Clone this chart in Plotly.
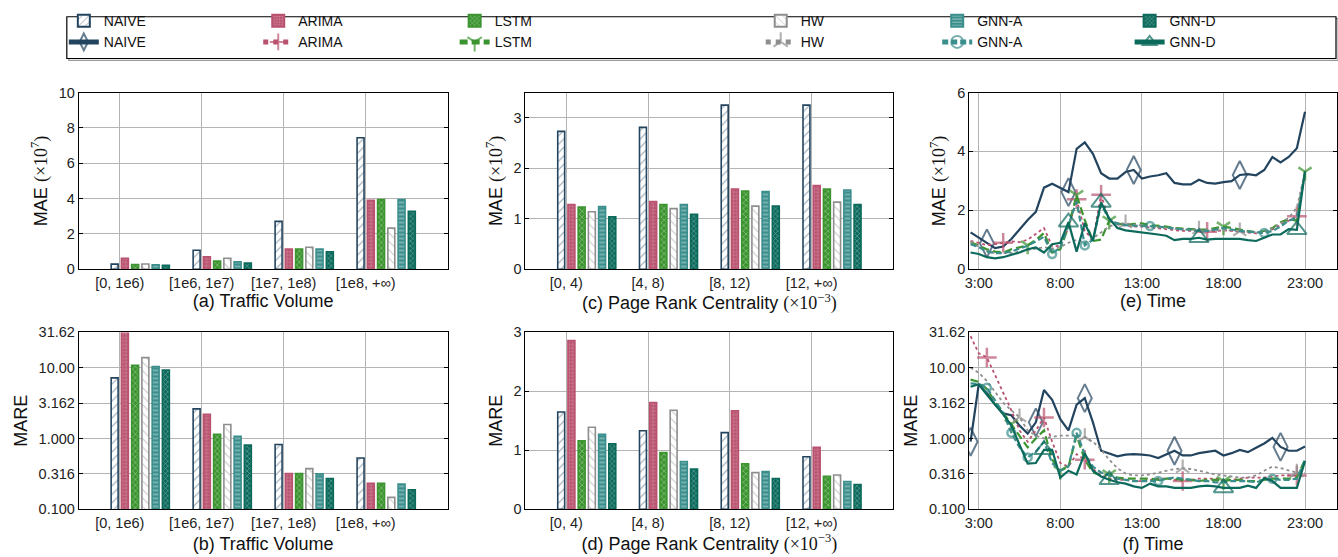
import plotly.graph_objects as go

W, H = 1338, 557

METHODS = ["NAIVE", "ARIMA", "LSTM", "HW", "GNN-A", "GNN-D"]

TV_CATS = ["[0, 1e6)", "[1e6, 1e7)", "[1e7, 1e8)", "[1e8, +∞)"]
PR_CATS = ["[0, 4)", "[4, 8)", "[8, 12)", "[12, +∞)"]

# (a) MAE (x1e7) by traffic volume
MAE_TV_NAIVE = [0.29, 1.08, 2.71, 7.44]
MAE_TV_ARIMA = [0.62, 0.71, 1.14, 3.90]
MAE_TV_LSTM = [0.27, 0.46, 1.14, 3.94]
MAE_TV_HW = [0.30, 0.62, 1.25, 2.33]
MAE_TV_GNNA = [0.26, 0.42, 1.14, 3.94]
MAE_TV_GNND = [0.22, 0.35, 0.99, 3.28]

# (b) MARE by traffic volume
MARE_TV_NAIVE = [7.2, 2.62, 0.82, 0.53]
MARE_TV_ARIMA = [34.0, 2.20, 0.319, 0.232]
MARE_TV_LSTM = [10.8, 1.15, 0.319, 0.232]
MARE_TV_HW = [13.9, 1.58, 0.374, 0.147]
MARE_TV_GNNA = [10.4, 1.07, 0.316, 0.227]
MARE_TV_GNND = [9.3, 0.805, 0.272, 0.188]

# (c) MAE (x1e7) by page rank centrality
MAE_PR_NAIVE = [2.73, 2.81, 3.25, 3.25]
MAE_PR_ARIMA = [1.28, 1.34, 1.59, 1.66]
MAE_PR_LSTM = [1.23, 1.28, 1.55, 1.59]
MAE_PR_HW = [1.14, 1.20, 1.25, 1.33]
MAE_PR_GNNA = [1.24, 1.28, 1.54, 1.57]
MAE_PR_GNND = [1.04, 1.09, 1.25, 1.28]

# (d) MARE by page rank centrality
MARE_PR_NAIVE = [1.65, 1.33, 1.30, 0.89]
MARE_PR_ARIMA = [2.86, 1.81, 1.67, 1.05]
MARE_PR_LSTM = [1.16, 0.96, 0.77, 0.56]
MARE_PR_HW = [1.39, 1.68, 0.62, 0.58]
MARE_PR_GNNA = [1.27, 0.81, 0.64, 0.47]
MARE_PR_GNND = [1.11, 0.68, 0.52, 0.42]

# time of day (hours)
TIME_H = [2.5, 3.0, 3.5, 4.0, 4.5, 5.0, 5.5, 6.0, 6.5, 7.0, 7.5, 8.0, 8.5, 9.0,
          9.5, 10.0, 10.5, 11.0, 11.5, 12.0, 12.5, 13.0, 13.5, 14.0, 14.5, 15.0,
          15.5, 16.0, 16.5, 17.0, 17.5, 18.0, 18.5, 19.0, 19.5, 20.0, 20.5, 21.0,
          21.5, 22.0, 22.5, 23.0]
TIME_TICKS = [3, 8, 13, 18, 23]
TIME_LABELS = ["3:00", "8:00", "13:00", "18:00", "23:00"]

# (e) MAE (x1e7) over time
E_NAIVE = [1.25, 1.07, 0.88, 0.72, 0.77, 1.03, 1.35, 1.67, 1.95, 2.77, 2.90, 2.75, 2.62, 4.09,
           4.31, 3.92, 3.26, 3.08, 3.08, 3.30, 3.37, 3.08, 3.15, 3.19, 3.26, 2.93,
           2.88, 2.88, 3.04, 2.93, 2.91, 2.96, 2.99, 3.20, 3.23, 3.19, 3.37, 3.81,
           3.63, 3.81, 4.11, 5.35]
E_ARIMA = [0.96, 0.90, 0.82, 0.85, 0.90, 0.95, 0.92, 1.00, 1.20, 1.40, 0.78, 0.80, 1.40, 2.38,
           1.30, 1.00, 2.53, 1.65, 1.52, 1.48, 1.45, 1.45, 1.42, 1.40, 1.38, 1.33,
           1.30, 1.30, 1.28, 1.27, 1.30, 1.32, 1.30, 1.28, 1.25, 1.22, 1.25, 1.35,
           1.50, 1.65, 1.80, 3.30]
E_LSTM = [0.92, 0.79, 0.68, 0.60, 0.57, 0.68, 0.75, 0.81, 0.99, 1.23, 0.57, 0.68, 1.45, 2.52,
          1.67, 0.96, 1.01, 1.65, 1.56, 1.50, 1.54, 1.56, 1.50, 1.48, 1.45, 1.40,
          1.38, 1.36, 1.35, 1.35, 1.40, 1.45, 1.40, 1.35, 1.32, 1.25, 1.30, 1.40,
          1.60, 1.70, 1.65, 3.31]
E_HW = [0.95, 0.75, 0.62, 0.55, 0.55, 0.55, 0.60, 0.65, 0.70, 0.75, 0.70, 0.75, 0.90, 1.00,
        0.90, 1.05, 1.25, 1.45, 1.55, 1.56, 1.52, 1.48, 1.45, 1.42, 1.40, 1.37,
        1.35, 1.33, 1.35, 1.33, 1.32, 1.33, 1.31, 1.29, 1.27, 1.25, 1.28, 1.40,
        1.55, 1.75, 2.10, 3.30]
E_GNNA = [0.85, 0.75, 0.60, 0.55, 0.55, 0.60, 0.70, 0.80, 0.95, 1.10, 0.52, 0.75, 1.50, 2.30,
          0.81, 1.00, 2.20, 1.70, 1.55, 1.50, 1.48, 1.47, 1.47, 1.45, 1.42, 1.38,
          1.35, 1.35, 1.30, 1.30, 1.35, 1.40, 1.35, 1.30, 1.28, 1.25, 1.23, 1.30,
          1.45, 1.65, 1.75, 3.30]
E_GNND = [0.57, 0.52, 0.41, 0.37, 0.41, 0.48, 0.57, 0.68, 0.74, 0.57, 0.85, 0.90, 1.60, 0.60,
          1.56, 0.97, 2.27, 1.72, 1.40, 1.32, 1.29, 1.25, 1.23, 1.18, 1.14, 0.99,
          1.03, 1.03, 1.07, 1.01, 1.03, 1.03, 1.05, 1.03, 0.99, 0.96, 1.07, 1.18,
          1.18, 1.36, 1.34, 3.32]

# (f) MARE over time
F_NAIVE = [0.90, 5.85, 4.37, 3.01, 2.26, 2.13, 1.52, 1.17, 1.69, 4.84, 3.53, 1.87, 1.30, 3.01,
           3.72, 1.69, 0.67, 0.62, 0.56, 0.59, 0.60, 0.59, 0.575, 0.53, 0.59, 0.67,
           0.575, 0.575, 0.62, 0.64, 0.67, 0.575, 0.62, 0.69, 0.64, 0.74, 0.85, 1.02,
           0.76, 0.67, 0.67, 0.77]
F_ARIMA = [28.0, 16.0, 14.0, 8.0, 4.5, 2.5, 1.3, 0.9, 1.3, 1.98, 0.9, 0.45, 0.40, 0.60,
           0.50, 0.37, 0.30, 0.27, 0.26, 0.26, 0.25, 0.25, 0.26, 0.27, 0.27, 0.26,
           0.25, 0.26, 0.27, 0.27, 0.27, 0.26, 0.26, 0.27, 0.28, 0.28, 0.28, 0.29,
           0.30, 0.30, 0.30, 0.32]
F_LSTM = [6.8, 6.3, 5.0, 3.3, 2.3, 1.6, 1.1, 0.75, 1.0, 1.3, 0.5, 0.35, 0.40, 1.10,
          0.50, 0.33, 0.30, 0.31, 0.28, 0.27, 0.27, 0.27, 0.27, 0.26, 0.27, 0.27,
          0.26, 0.26, 0.25, 0.26, 0.26, 0.25, 0.26, 0.26, 0.25, 0.25, 0.26, 0.27,
          0.27, 0.27, 0.28, 0.50]
F_HW = [10.0, 8.5, 6.5, 4.5, 3.2, 2.5, 2.0, 1.3, 1.1, 1.0, 1.05, 1.1, 1.1, 1.1,
        1.05, 0.9, 0.7, 0.5, 0.38, 0.32, 0.30, 0.30, 0.31, 0.33, 0.35, 0.37,
        0.38, 0.37, 0.35, 0.33, 0.31, 0.30, 0.29, 0.28, 0.28, 0.30, 0.35, 0.40,
        0.38, 0.35, 0.33, 0.32]
F_GNNA = [6.0, 5.9, 5.2, 3.5, 2.3, 1.2, 0.75, 0.54, 0.65, 0.90, 0.45, 0.35, 0.40, 1.20,
          0.60, 0.40, 0.33, 0.30, 0.27, 0.26, 0.25, 0.25, 0.25, 0.25, 0.27, 0.28,
          0.27, 0.26, 0.25, 0.25, 0.24, 0.24, 0.25, 0.25, 0.25, 0.24, 0.26, 0.27,
          0.26, 0.26, 0.27, 0.50]
F_GNND = [5.4, 5.85, 4.13, 3.0, 2.2, 1.52, 0.81, 0.44, 0.45, 0.69, 0.69, 0.28, 0.35, 0.31,
          0.62, 0.35, 0.29, 0.26, 0.24, 0.23, 0.21, 0.20, 0.23, 0.21, 0.21, 0.20,
          0.20, 0.20, 0.21, 0.215, 0.21, 0.20, 0.20, 0.20, 0.215, 0.20, 0.275, 0.25,
          0.20, 0.20, 0.20, 0.48]

# indices of time slots that carry a marker
E_MARKS = {"NAIVE": [2, 12, 20, 33], "ARIMA": [4, 13, 16, 29, 40], "LSTM": [7, 13, 17, 31, 41],
           "HW": [19, 28, 33], "GNN-A": [10, 14, 22, 36], "GNN-D": [12, 16, 28, 40]}
F_MARKS = {"NAIVE": [0, 8, 14, 25, 38], "ARIMA": [2, 9, 14, 26, 40], "LSTM": [5, 11, 17, 31],
           "HW": [6, 14, 26, 40], "GNN-A": [2, 5, 7, 13, 23, 37], "GNN-D": [9, 17, 31]}

MAE_TV = dict(zip(METHODS, [MAE_TV_NAIVE, MAE_TV_ARIMA, MAE_TV_LSTM, MAE_TV_HW, MAE_TV_GNNA, MAE_TV_GNND]))
MARE_TV = dict(zip(METHODS, [MARE_TV_NAIVE, MARE_TV_ARIMA, MARE_TV_LSTM, MARE_TV_HW, MARE_TV_GNNA, MARE_TV_GNND]))
MAE_PR = dict(zip(METHODS, [MAE_PR_NAIVE, MAE_PR_ARIMA, MAE_PR_LSTM, MAE_PR_HW, MAE_PR_GNNA, MAE_PR_GNND]))
MARE_PR = dict(zip(METHODS, [MARE_PR_NAIVE, MARE_PR_ARIMA, MARE_PR_LSTM, MARE_PR_HW, MARE_PR_GNNA, MARE_PR_GNND]))
E_SER = dict(zip(METHODS, [E_NAIVE, E_ARIMA, E_LSTM, E_HW, E_GNNA, E_GNND]))
F_SER = dict(zip(METHODS, [F_NAIVE, F_ARIMA, F_LSTM, F_HW, F_GNNA, F_GNND]))

# ---------------- styles ----------------
NAVY = "#23445f"
PINK = "#b9526f"
GREEN = "#3c9430"
GRAY = "#8e8e8e"
TEAL = "#3a8e8c"
DTEAL = "#0c6a5c"

BAR_STYLE = {
    "NAIVE": dict(bg="white", fg=NAVY, edge=NAVY, shape="/", size=6, sol=0.18),
    "ARIMA": dict(bg=PINK, fg="#f3d6de", edge=PINK, shape="+", size=3.5, sol=0.25),
    "LSTM": dict(bg=GREEN, fg="#e6f2e2", edge=GREEN, shape="x", size=4, sol=0.3),
    "HW": dict(bg="white", fg=GRAY, edge=GRAY, shape="\\", size=6, sol=0.18),
    "GNN-A": dict(bg=TEAL, fg="#e3f0ef", edge=TEAL, shape="-", size=4, sol=0.35),
    "GNN-D": dict(bg=DTEAL, fg="#d8ebe7", edge=DTEAL, shape="x", size=3.5, sol=0.3),
}
LINE_STYLE = {
    "NAIVE": dict(color=NAVY, dash="solid", w=2.2, sym="diamond-tall-open", ms=20, mlw=2),
    "ARIMA": dict(color=PINK, dash="dot", w=1.8, sym="cross-thin-open", ms=14, mlw=2.5),
    "LSTM": dict(color=GREEN, dash="8px,4px", w=2.2, sym="y-down-open", ms=11, mlw=2.5),
    "HW": dict(color=GRAY, dash="dot", w=1.8, sym="y-up-open", ms=11, mlw=2.2),
    "GNN-A": dict(color=TEAL, dash="6px,3px", w=2.2, sym="circle-open", ms=8, mlw=2.5),
    "GNN-D": dict(color=DTEAL, dash="solid", w=2.2, sym="triangle-up-open", ms=17, mlw=2),
}
LEG = dict(zip(METHODS, ["legend", "legend2", "legend3", "legend4", "legend5", "legend6"]))
LEG_TEXT_X = [101, 296, 493, 800, 977, 1170]

BW = 0.085
STEP = 0.125
FONT = "Liberation Sans, Arial, sans-serif"

fig = go.Figure()


def add_bars(vals, ncat, xa, ya, show):
    for i, m in enumerate(METHODS):
        st = BAR_STYLE[m]
        fig.add_trace(go.Bar(
            x=list(range(ncat)), y=vals[m], xaxis=xa, yaxis=ya,
            width=BW, offset=(i - 0.5) * STEP - BW / 2,
            marker=dict(color=st["bg"], line=dict(color=st["edge"], width=1.6),
                        pattern=dict(shape=st["shape"], fgcolor=st["fg"], size=st["size"],
                                     solidity=st["sol"], fillmode="overlay")),
            name=m, legend=LEG[m], legendgroup=m + "_bar", showlegend=show,
            hoverinfo="skip"))


def add_lines(series, marks, xa, ya, show):
    for m in METHODS:
        st = LINE_STYLE[m]
        sizes = [st["ms"] if k in marks[m] else 0 for k in range(len(TIME_H))]
        fig.add_trace(go.Scatter(
            x=TIME_H, y=series[m], xaxis=xa, yaxis=ya, mode="lines+markers",
            line=dict(color=st["color"], dash=st["dash"], width=st["w"]),
            marker=dict(symbol=st["sym"], size=sizes, color=st["color"],
                        line=dict(color=st["color"], width=st["mlw"])),
            name=m, legend=LEG[m], legendgroup=m + "_line", showlegend=show,
            hoverinfo="skip"))


add_bars(MAE_TV, 4, "x", "y", True)
add_bars(MAE_PR, 4, "x2", "y2", False)
add_lines(E_SER, E_MARKS, "x3", "y3", True)
add_bars(MARE_TV, 4, "x4", "y4", False)
add_bars(MARE_PR, 4, "x5", "y5", False)
add_lines(F_SER, F_MARKS, "x6", "y6", False)


def px_x(a, b):
    return [a / W, b / W]


def px_y(top, bot):
    return [1 - bot / H, 1 - top / H]


COLS = [px_x(75, 445), px_x(523, 892), px_x(968, 1337)]
ROWS = [px_y(87, 269), px_y(334, 516)]

MAEt = 'MAE <span style="font-family:Liberation Serif">(×10<sup>7</sup>)</span>'
PRt = 'Page Rank Centrality <span style="font-family:Liberation Serif">(×10<sup>−3</sup>)</span>'


def xax(dom, anchor, title, tickvals, ticktext, rng, standoff):
    return dict(domain=dom, anchor=anchor, range=rng, tickvals=tickvals, ticktext=ticktext,
                showline=True, linecolor="black", linewidth=1, mirror=True, ticks="",
                showgrid=True, gridcolor="#b4b4b4", gridwidth=1, zeroline=False,
                tickfont=dict(size=14.5, color="#222", family=FONT),
                title=dict(text=title, font=dict(size=18, color="#111", family=FONT), standoff=standoff))


def yax(dom, anchor, title, rng, tickvals=None, ticktext=None, log=False):
    d = dict(domain=dom, anchor=anchor, range=rng,
             showline=True, linecolor="black", linewidth=1, mirror="ticks", ticks="inside",
             ticklen=4, tickcolor="black",
             showgrid=True, gridcolor="#b4b4b4", gridwidth=1, zeroline=False,
             tickfont=dict(size=14.5, color="#222", family=FONT),
             title=dict(text=title, font=dict(size=18, color="#111", family=FONT), standoff=6))
    if log:
        d["type"] = "log"
    if tickvals is not None:
        d["tickvals"] = tickvals
        d["ticktext"] = ticktext
    return d


LOG_TICKS = [0.1, 0.316, 1.0, 3.162, 10.0, 31.62]
LOG_TEXT = ["0.100", "0.316", "1.000", "3.162", "10.00", "31.62"]

layout = dict(
    width=W, height=H, margin=dict(l=0, r=0, t=0, b=0),
    paper_bgcolor="white", plot_bgcolor="white", barmode="overlay",
    font=dict(family=FONT, color="#111"),
    xaxis=xax(COLS[0], "y", "(a) Traffic Volume", [0, 1, 2, 3], TV_CATS, [-0.5, 4.0], 2),
    yaxis=yax(ROWS[0], "x", MAEt, [0, 10], [0, 2, 4, 6, 8, 10], ["0", "2", "4", "6", "8", "10"]),
    xaxis2=xax(COLS[1], "y2", "(c) " + PRt, [0, 1, 2, 3], PR_CATS, [-0.5, 4.0], 2),
    yaxis2=yax(ROWS[0], "x2", MAEt, [0, 3.5], [0, 1, 2, 3], ["0", "1", "2", "3"]),
    xaxis3=xax(COLS[2], "y3", "(e) Time", TIME_TICKS, TIME_LABELS, [2.41, 24.96], 2),
    yaxis3=yax(ROWS[0], "x3", MAEt, [0, 6], [0, 2, 4, 6], ["0", "2", "4", "6"]),
    xaxis4=xax(COLS[0], "y4", "(b) Traffic Volume", [0, 1, 2, 3], TV_CATS, [-0.5, 4.0], 7),
    yaxis4=yax(ROWS[1], "x4", "MARE", [-1, 1.5], LOG_TICKS, LOG_TEXT, log=True),
    xaxis5=xax(COLS[1], "y5", "(d) " + PRt, [0, 1, 2, 3], PR_CATS, [-0.5, 4.0], 7),
    yaxis5=yax(ROWS[1], "x5", "MARE", [0, 3], [0, 1, 2, 3], ["0", "1", "2", "3"]),
    xaxis6=xax(COLS[2], "y6", "(f) Time", TIME_TICKS, TIME_LABELS, [2.41, 24.96], 7),
    yaxis6=yax(ROWS[1], "x6", "MARE", [-1, 1.5], LOG_TICKS, LOG_TEXT, log=True),
)
for k, (lname, tx) in enumerate(zip(LEG.values(), LEG_TEXT_X)):
    layout[lname] = dict(x=(tx - 41) / W, xanchor="left", y=1 + 3 / H, yanchor="top",
                         orientation="v", bgcolor="rgba(0,0,0,0)", borderwidth=0,
                         font=dict(size=14, family=FONT, color="#111"),
                         itemsizing="constant", tracegroupgap=0, itemwidth=30)
layout["shapes"] = [
    dict(type="rect", xref="paper", yref="paper",
         x0=65 / W, x1=1338 / W, y0=1 - 54 / H, y1=1 - 11 / H,
         line=dict(color="#9a9a9a", width=1.2), fillcolor="rgba(0,0,0,0)", layer="below"),
    dict(type="rect", xref="paper", yref="paper",
         x0=63 / W, x1=1336 / W, y0=1 - 52 / H, y1=1 - 9 / H,
         line=dict(color="black", width=1.2), fillcolor="white", layer="below"),
]
fig.update_layout(**layout)

fig.write_html("out.html", config={"displayModeBar": False},
               post_script="document.body.style.margin='0';document.body.style.padding='0';")
